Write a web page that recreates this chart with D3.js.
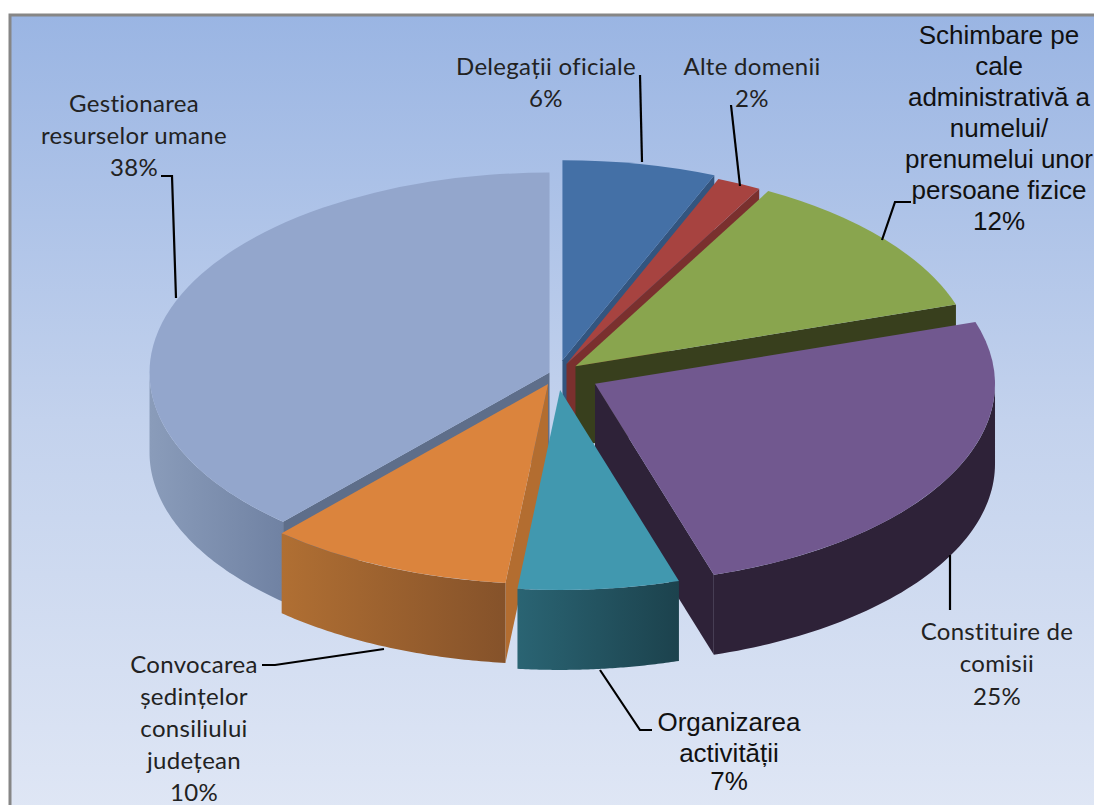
<!DOCTYPE html>
<html lang="en">
<head>
	<meta charset="UTF-8">
	<style>
	html, body { margin: 0; padding: 0; background: #fff; overflow: hidden; }
	svg { display: block; }
	.calibri { font-family: Lato, "Open Sans", sans-serif; font-size: 24px; letter-spacing: 0.3px; fill: #222; }
	.arial { font-family: "Liberation Sans", Arial, sans-serif; font-size: 26px; fill: #111; }
	</style>
	<script src="https://d3js.org/d3.v7.min.js"></script>
	<title>Pie 3D</title>
</head>
<body>
	<div id="chart"></div>
	<script>
		// Chart data, clockwise from 12 o'clock. Slice sizes, the labels round them
		const categories = ["Delegații oficiale", "Alte domenii", "Schimbare pe cale administrativă a numelui/ prenumelui unor persoane fizice",
			"Constituire de comisii", "Organizarea activității", "Convocarea ședințelor consiliului județean", "Gestionarea resurselor umane"];
		const values = [6.2, 1.8, 12, 25.2, 6.5, 9.9, 38.4];

		// Colours, in the same order
		const topColors = ["#4470a6", "#a74340", "#89a54e", "#71588f", "#4198af", "#db843d", "#93a6cc"];
		const cutColors = ["#33557f", "#7a302e", "#383f1d", "#2e2238", "#1f4a56", "#b36d30", "#5e6e8a"];
		const wallFrom = ["#34557f", "#7a302e", "#4d5c2c", "#2e2238", "#2a6473", "#b06f33", "#8a9cba"];
		const wallTo = ["#34557f", "#7a302e", "#4d5c2c", "#2e2238", "#1c424d", "#85522a", "#7082a3"];

		// How far each slice is pulled out of the pie, as a share of the radius
		const explode = [0.07, 0.055, 0.06, 0.107, 0.08, 0.055, 0.02];
		// Back to front
		const drawOrder = [6, 0, 1, 2, 3, 5, 4];

		// Label text, one entry per line
		const labelBlocks = [
			{ cls: "calibri", x: 546, y: [75, 107], lines: ["Delegații oficiale", "6%"], leader: [[640, 75], [642, 162]] },
			{ cls: "calibri", x: 752, y: [75, 107], lines: ["Alte domenii", "2%"], leader: [[731, 105], [740, 186]] },
			{ cls: "arial", x: 999, y: [44, 75, 106, 137, 168, 199, 230],
				lines: ["Schimbare pe", "cale", "administrativă a", "numelui/", "prenumelui unor", "persoane fizice", "12%"],
				leader: [[911, 202], [895, 202], [882, 240]] },
			{ cls: "calibri", x: 997, y: [640, 672, 705], lines: ["Constituire de", "comisii", "25%"], leader: [[950, 555], [950, 610]] },
			{ cls: "arial", x: 729, y: [731, 762, 790], lines: ["Organizarea", "activității", "7%"], leader: [[600, 670], [640, 730], [652, 730]] },
			{ cls: "calibri", x: 194, y: [673, 705, 737, 769, 801], lines: ["Convocarea", "ședințelor", "consiliului", "județean", "10%"],
				leader: [[262, 665], [275, 665], [384, 649]] },
			{ cls: "calibri", x: 134, y: [112, 144, 176], lines: ["Gestionarea", "resurselor umane", "38%"], leader: [[161, 176], [172, 176], [176, 298]] }
		];

		const width = 1094, height = 805;
		const cx = 557, cy = 374, rx = 400, ry = 200, depth = 80;

		const svg = d3.select("#chart").append("svg").attr("width", width).attr("height", height);
		const defs = svg.append("defs");

		// Background panel
		const bg = defs.append("linearGradient").attr("id", "bg").attr("x1", 0).attr("y1", 0).attr("x2", 0).attr("y2", 1);
		bg.append("stop").attr("offset", "0%").attr("stop-color", "#9ab5e3");
		bg.append("stop").attr("offset", "50%").attr("stop-color", "#c3d2ed");
		bg.append("stop").attr("offset", "100%").attr("stop-color", "#e0e7f5");
		svg.append("rect").attr("x", 10).attr("y", 15).attr("width", width + 10).attr("height", height + 5)
			.attr("fill", "url(#bg)").attr("stroke", "#868686").attr("stroke-width", 3);

		const arcs = d3.pie().sort(null).value(d => d)(values);
		const topArc = d3.arc().innerRadius(0).outerRadius(rx);
		const squash = ry / rx;

		// Screen position of a point on the pie, t in radians clockwise from the top
		const project = (t, r) => [r * Math.sin(t), -r * squash * Math.cos(t)];
		const line = d3.line();

		const slices = svg.append("g");
		drawOrder.forEach(function(i) {
			const a = arcs[i];
			const mid = (a.startAngle + a.endAngle) / 2;
			const off = project(mid, rx * explode[i]);
			const g = slices.append("g").attr("transform", "translate(" + (cx + off[0]) + "," + (cy + off[1]) + ")");

			// Cut faces, only the ones that turn towards the viewer
			[[a.startAngle, Math.sin(a.startAngle) < 0], [a.endAngle, Math.sin(a.endAngle) > 0]].forEach(function(edge) {
				if (!edge[1]) return;
				const p = project(edge[0], rx);
				g.append("path")
					.attr("d", line([[0, 0], p, [p[0], p[1] + depth], [0, depth]]) + "Z")
					.attr("fill", cutColors[i]);
			});

			// Outer wall, only the front half of the rim
			const t0 = Math.max(a.startAngle, Math.PI / 2);
			const t1 = Math.min(a.endAngle, Math.PI * 1.5);
			if (t1 > t0) {
				const rim = d3.range(0, 61).map(k => project(t0 + (t1 - t0) * k / 60, rx));
				const lower = rim.map(p => [p[0], p[1] + depth]).reverse();
				const xs = d3.extent(rim, p => p[0]);
				const gradId = "wall" + i;
				const grad = defs.append("linearGradient").attr("id", gradId)
					.attr("gradientUnits", "userSpaceOnUse")
					.attr("x1", xs[0]).attr("x2", xs[1]).attr("y1", 0).attr("y2", 0);
				grad.append("stop").attr("offset", "0%").attr("stop-color", wallFrom[i]);
				grad.append("stop").attr("offset", "100%").attr("stop-color", wallTo[i]);
				g.append("path").attr("d", line(rim.concat(lower)) + "Z").attr("fill", "url(#" + gradId + ")");
			}

			// Top face
			g.append("path")
				.attr("transform", "scale(1," + squash + ")")
				.attr("d", topArc(a))
				.attr("fill", topColors[i])
				.append("title").text(categories[i]);
		});

		// Leader lines and labels
		const labels = svg.append("g");
		labelBlocks.forEach(function(b) {
			labels.append("path").attr("d", line(b.leader))
				.attr("fill", "none").attr("stroke", "#000").attr("stroke-width", 2.2);
			b.lines.forEach(function(t, k) {
				labels.append("text").attr("class", b.cls).attr("x", b.x).attr("y", b.y[k])
					.attr("text-anchor", "middle").text(t);
			});
		});
	</script>
</body>
</html>
